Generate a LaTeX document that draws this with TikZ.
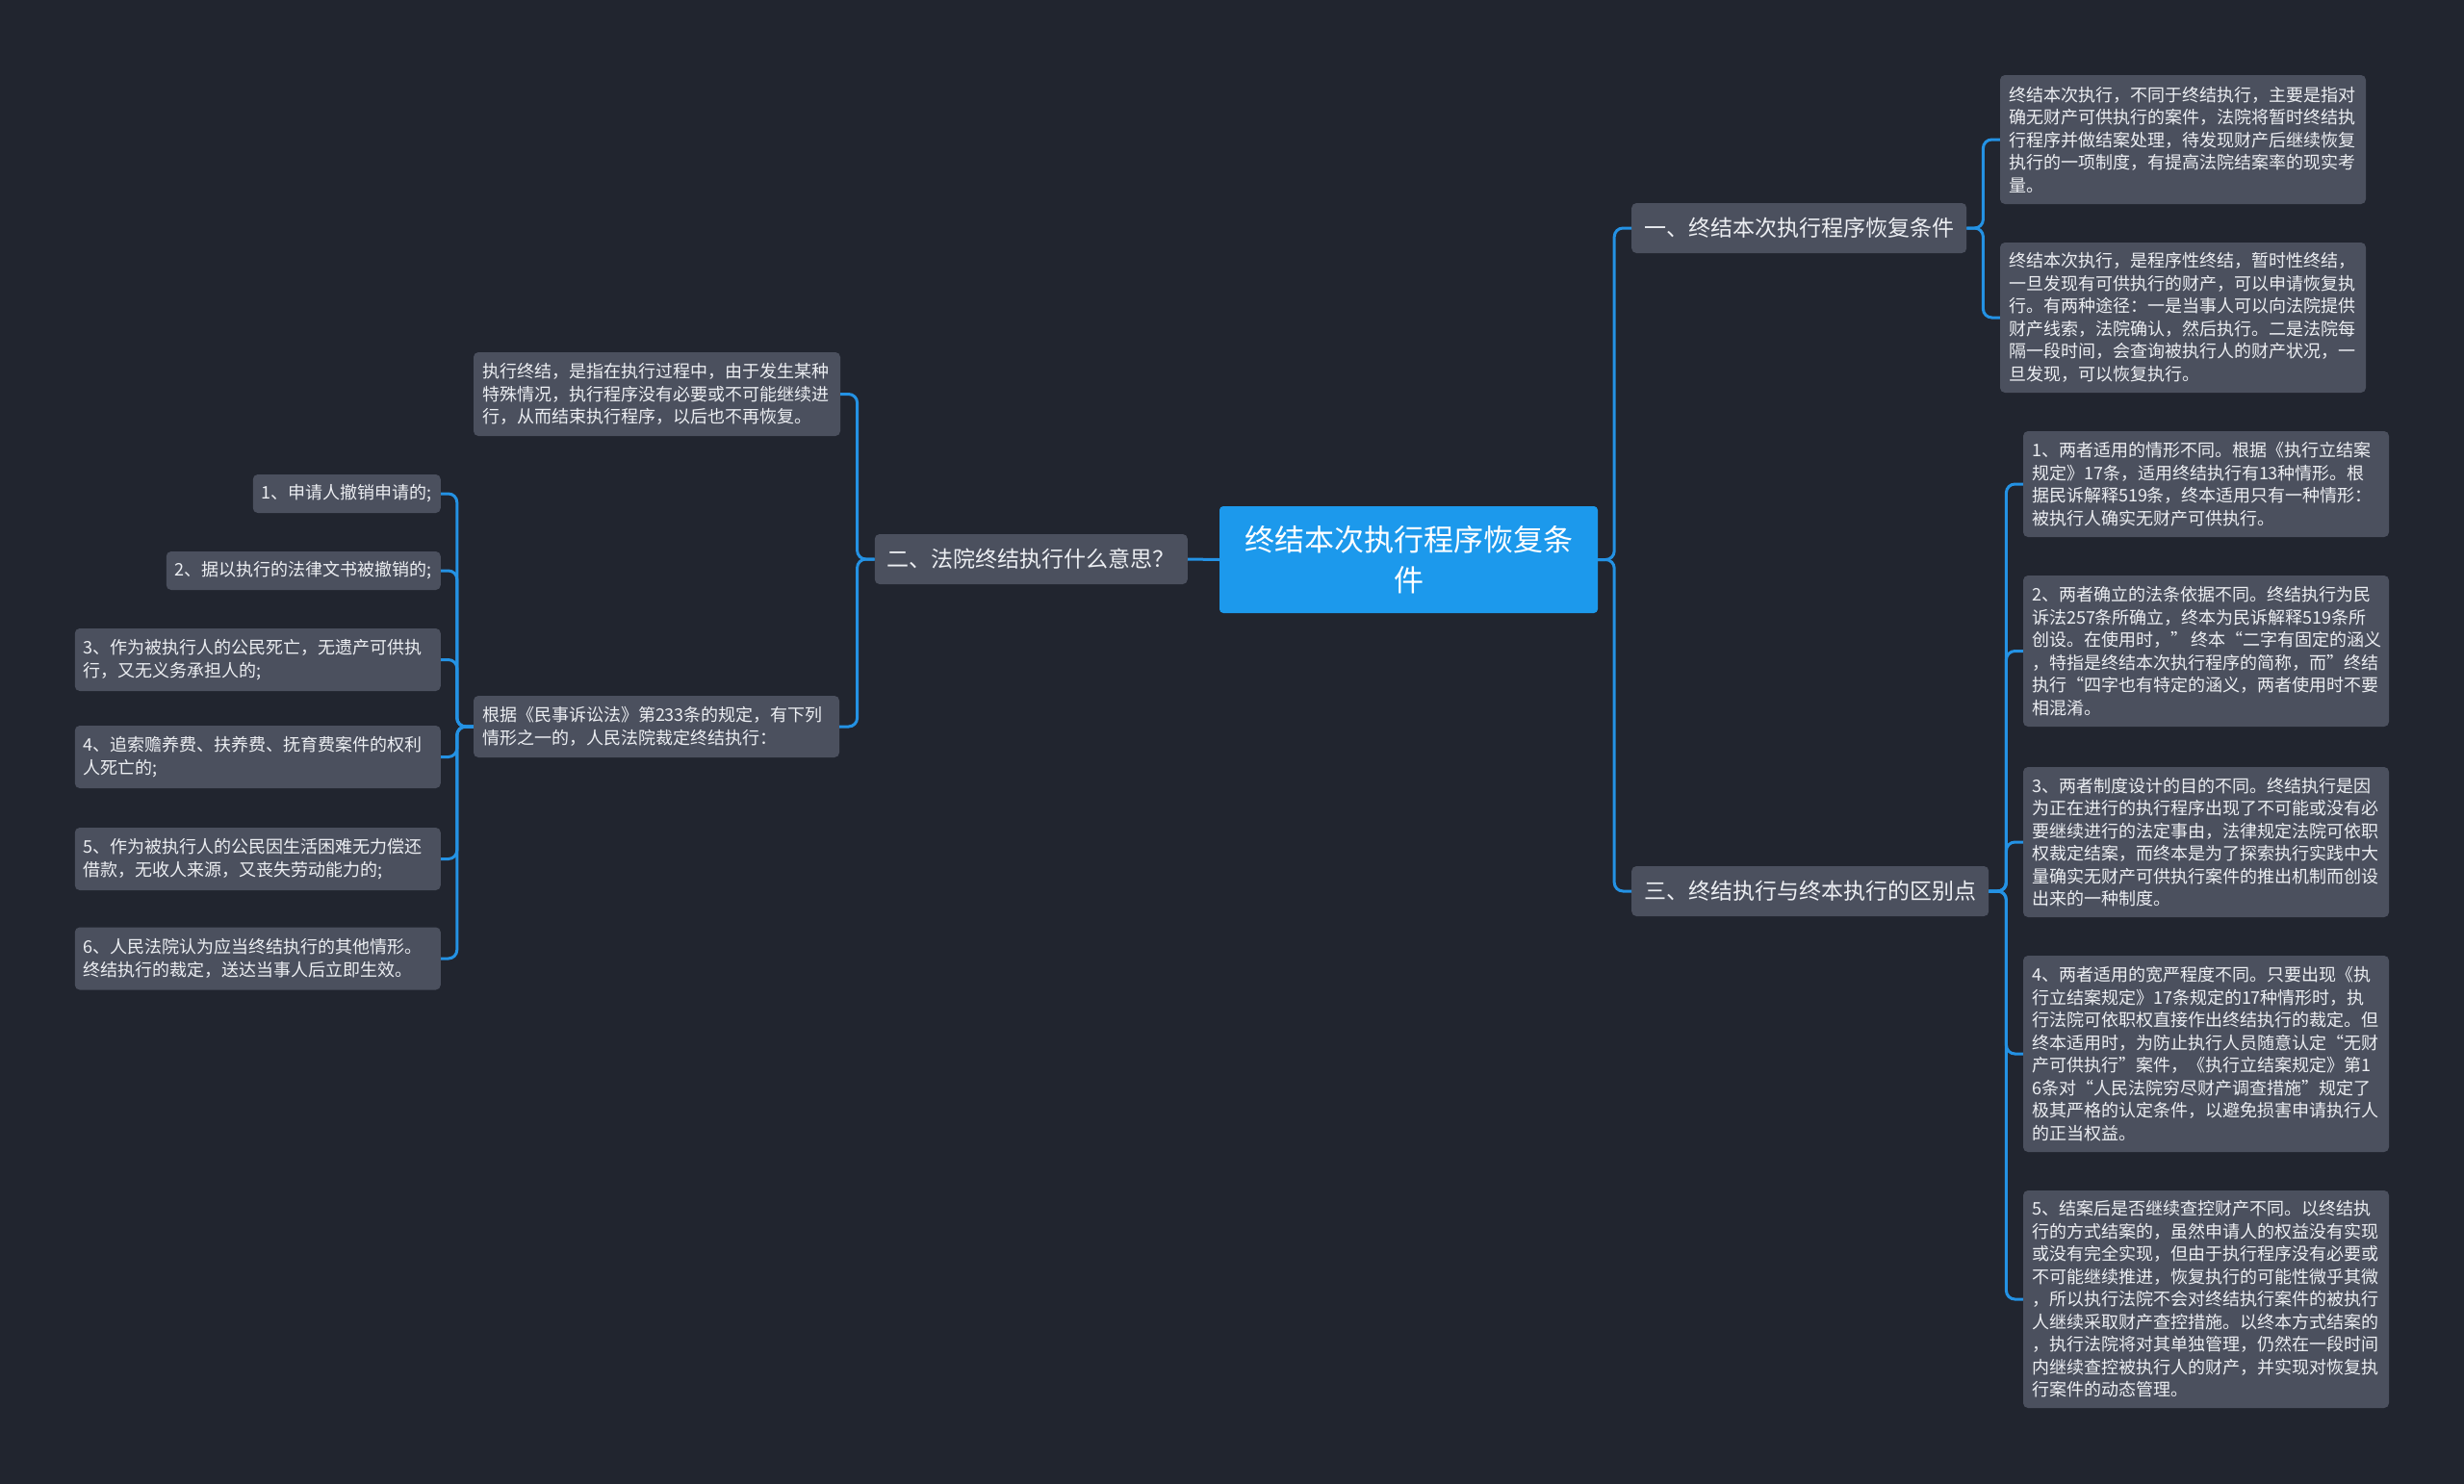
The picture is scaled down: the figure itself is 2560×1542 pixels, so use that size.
\documentclass[tikz,border=0pt]{standalone}
\usepackage{fontspec}
\newfontfamily\cjk{Noto Sans CJK SC}
\definecolor{bgc}{RGB}{33,37,47}
\definecolor{nodeg}{RGB}{75,80,94}
\definecolor{ctrblue}{RGB}{28,153,236}
\definecolor{connb}{RGB}{36,146,228}
\definecolor{txt}{RGB}{236,238,242}
\tikzset{
  leaf/.style={fill=nodeg, rounded corners=5pt, text=txt, align=left,
    font=\cjk\fontsize{18}{23.5}\selectfont, inner xsep=9pt, inner ysep=6pt},
  lvl/.style={fill=nodeg, rounded corners=5pt, text=txt,
    font=\cjk\fontsize{23}{28}\selectfont, inner xsep=13pt, minimum height=52pt},
  ctr/.style={fill=ctrblue, rounded corners=4pt, text=white, align=center,
    font=\cjk\fontsize{31}{42}\selectfont, minimum width=393pt, minimum height=111pt},
  conn/.style={draw=connb, line width=3pt, rounded corners=9pt}
}
\begin{document}
\begin{tikzpicture}[x=1pt,y=-1pt]
\useasboundingbox (0,0) rectangle (2560,1542);
\fill[bgc] (0,0) rectangle (2560,1542);

\node[ctr] (c) at (1463.5,581.5) {终结本次执行程序恢复条\\件};

% right level 1
\node[lvl, anchor=west] (a1) at (1695,237) {一、终结本次执行程序恢复条件};
\node[lvl, anchor=west] (a3) at (1695,926) {三、终结执行与终本执行的区别点};
% left level 1
\node[lvl, anchor=east] (a2) at (1234,581) {二、法院终结执行什么意思？};

% leaves of a1
\node[leaf, text width=362pt, minimum height=134pt] (b1) at (2268,145) {终结本次执行，不同于终结执行，主要是指对\\确无财产可供执行的案件，法院将暂时终结执\\行程序并做结案处理，待发现财产后继续恢复\\执行的一项制度，有提高法院结案率的现实考\\量。};
\node[leaf, text width=362pt, minimum height=156pt] (b2) at (2268,330) {终结本次执行，是程序性终结，暂时性终结，\\一旦发现有可供执行的财产，可以申请恢复执\\行。有两种途径：一是当事人可以向法院提供\\财产线索，法院确认，然后执行。二是法院每\\隔一段时间，会查询被执行人的财产状况，一\\旦发现，可以恢复执行。};

% leaves of a3
\node[leaf, text width=362pt, minimum height=110pt] (d1) at (2292,503) {1、两者适用的情形不同。根据《执行立结案\\规定》17条，适用终结执行有13种情形。根\\据民诉解释519条，终本适用只有一种情形：\\被执行人确实无财产可供执行。};
\node[leaf, text width=362pt, minimum height=157pt] (d2) at (2292,676.5) {2、两者确立的法条依据不同。终结执行为民\\诉法257条所确立，终本为民诉解释519条所\\创设。在使用时，”\nobreak\hspace{3pt}终本“二字有固定的涵义\\，特指是终结本次执行程序的简称，而”终结\\执行“四字也有特定的涵义，两者使用时不要\\相混淆。};
\node[leaf, text width=362pt, minimum height=156pt] (d3) at (2292,875) {3、两者制度设计的目的不同。终结执行是因\\为正在进行的执行程序出现了不可能或没有必\\要继续进行的法定事由，法律规定法院可依职\\权裁定结案，而终本是为了探索执行实践中大\\量确实无财产可供执行案件的推出机制而创设\\出来的一种制度。};
\node[leaf, text width=362pt, minimum height=204pt] (d4) at (2292,1095) {4、两者适用的宽严程度不同。只要出现《执\\行立结案规定》17条规定的17种情形时，执\\行法院可依职权直接作出终结执行的裁定。但\\终本适用时，为防止执行人员随意认定“无财\\产可供执行”案件，《执行立结案规定》第1\\6条对“人民法院穷尽财产调查措施”规定了\\极其严格的认定条件，以避免损害申请执行人\\的正当权益。};
\node[leaf, text width=362pt, minimum height=226pt] (d5) at (2292,1350) {5、结案后是否继续查控财产不同。以终结执\\行的方式结案的，虽然申请人的权益没有实现\\或没有完全实现，但由于执行程序没有必要或\\不可能继续推进，恢复执行的可能性微乎其微\\，所以执行法院不会对终结执行案件的被执行\\人继续采取财产查控措施。以终本方式结案的\\，执行法院将对其单独管理，仍然在一段时间\\内继续查控被执行人的财产，并实现对恢复执\\行案件的动态管理。};

% leaves of a2
\node[leaf, text width=363pt, minimum height=87pt] (e1) at (682.5,409.5) {执行终结，是指在执行过程中，由于发生某种\\特殊情况，执行程序没有必要或不可能继续进\\行，从而结束执行程序，以后也不再恢复。};
\node[leaf, text width=362pt, minimum height=64pt] (e2) at (682,755) {根据《民事诉讼法》第233条的规定，有下列\\情形之一的，人民法院裁定终结执行：};

% items of e2
\node[leaf, anchor=east, minimum height=40pt] (f1) at (458,513) {1、申请人撤销申请的;};
\node[leaf, anchor=east, minimum height=40pt] (f2) at (458,593) {2、据以执行的法律文书被撤销的;};
\node[leaf, anchor=east, text width=362pt, minimum height=65pt] (f3) at (458,685.5) {3、作为被执行人的公民死亡，无遗产可供执\\行，又无义务承担人的;};
\node[leaf, anchor=east, text width=362pt, minimum height=65pt] (f4) at (458,786.5) {4、追索赡养费、扶养费、抚育费案件的权利\\人死亡的;};
\node[leaf, anchor=east, text width=362pt, minimum height=65pt] (f5) at (458,892.5) {5、作为被执行人的公民因生活困难无力偿还\\借款，无收人来源，又丧失劳动能力的;};
\node[leaf, anchor=east, text width=362pt, minimum height=65pt] (f6) at (458,996) {6、人民法院认为应当终结执行的其他情形。\\终结执行的裁定，送达当事人后立即生效。};

% connectors
\draw[conn] (c.east) -- ++(17,0) |- (a1.west);
\draw[conn] (c.east) -- ++(17,0) |- (a3.west);
\draw[conn] (c.west) -- (a2.east);

\draw[conn] (a1.east) -- ++(17,0) |- (b1.west);
\draw[conn] (a1.east) -- ++(17,0) |- (b2.west);

\foreach \n in {d1,d2,d3,d4,d5}
  \draw[conn] (a3.east) -- ++(18,0) |- (\n.west);

\draw[conn] (a2.west) -- ++(-18,0) |- (e1.east);
\draw[conn] (a2.west) -- ++(-18,0) |- (e2.east);

\foreach \n in {f1,f2,f3,f4,f5,f6}
  \draw[conn] (e2.west) -- ++(-17,0) |- (\n.east);
\end{tikzpicture}
\end{document}
